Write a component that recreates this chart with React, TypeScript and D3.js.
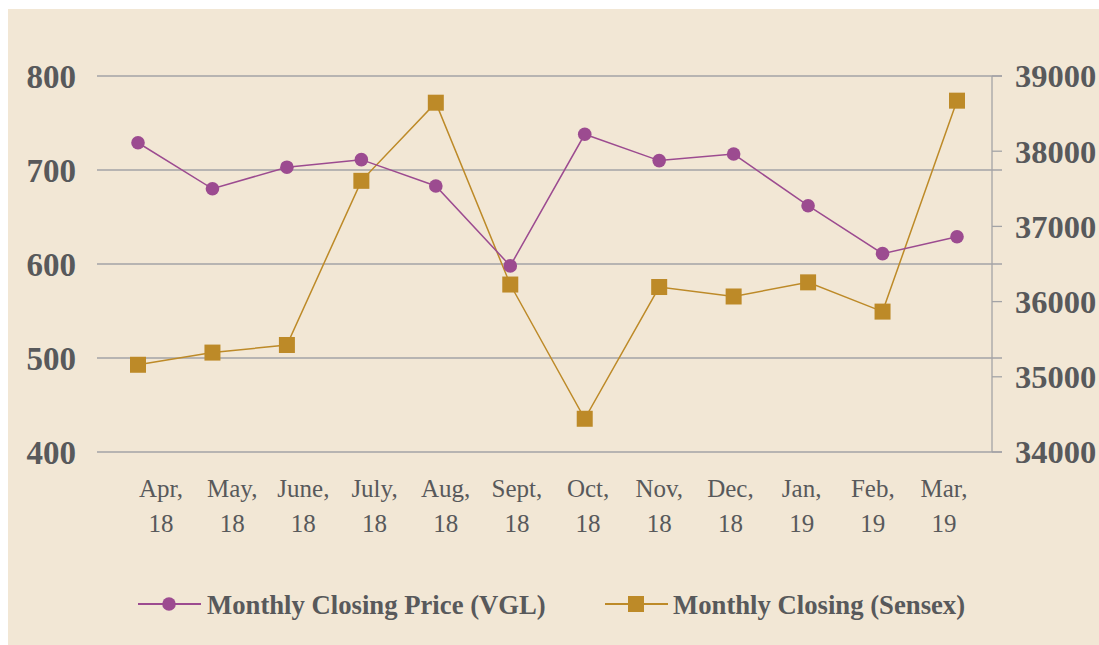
import React from 'react';
import * as d3 from 'd3';

const months = ['Apr, 18', 'May, 18', 'June, 18', 'July, 18', 'Aug, 18', 'Sept, 18', 'Oct, 18', 'Nov, 18', 'Dec, 18', 'Jan, 19', 'Feb, 19', 'Mar, 19'];
const vgl = [729, 680, 703, 711, 683, 598, 738, 710, 717, 662, 611, 629];
const sensex = [35160, 35322, 35423, 37606, 38645, 36227, 34442, 36194, 36068, 36256, 35867, 38672];
const leftTicks = [400, 500, 600, 700, 800];
const rightTicks = [34000, 35000, 36000, 37000, 38000, 39000];

const PURPLE = '#9c4b90';
const GOLD = '#bd8a28';
const TEXT = '#58595b';
const GRID = '#a3a3a6';
const FONT = '"Liberation Serif", "Times New Roman", serif';

const App = () => {
    const W = 1099, H = 645;
    const x = d3.scalePoint<string>().domain(months).range([138, 957]);
    const xLabel = d3.scalePoint<string>().domain(months).range([161, 944]);
    const yL = d3.scaleLinear().domain([400, 800]).range([452, 76]);
    const yR = d3.scaleLinear().domain([34000, 39000]).range([452, 76]);

    const lineL = d3.line<number>().x((d, i) => x(months[i])!).y(d => yL(d));
    const lineR = d3.line<number>().x((d, i) => x(months[i])!).y(d => yR(d));

    return (
        <svg width={W} height={H} style={{position: 'absolute', left: 0, top: 0}} fontFamily={FONT}>
            <rect x={0} y={0} width={W} height={H} fill="#ffffff"/>
            <rect x={8} y={9} width={W - 8} height={H - 9} fill="#f2e7d5"/>

            {leftTicks.map(t => (
                <g key={t}>
                    <line x1={97} x2={1002} y1={yL(t)} y2={yL(t)} stroke={GRID} strokeWidth={1.3}/>
                    <text x={76} y={yL(t)} dy="0.35em" textAnchor="end" fontSize={33} fontWeight="bold" fill={TEXT}>{t}</text>
                </g>
            ))}

            <line x1={992} x2={992} y1={yR(39000)} y2={yR(34000)} stroke={GRID} strokeWidth={1.3}/>
            {rightTicks.map(t => (
                <g key={t}>
                    <line x1={992} x2={1002} y1={yR(t)} y2={yR(t)} stroke={GRID} strokeWidth={1.3}/>
                    <text x={1015} y={yR(t)} dy="0.35em" fontSize={32.5} fontWeight="bold" fill={TEXT}>{t}</text>
                </g>
            ))}

            {months.map(m => {
                const [a, b] = m.split(' ');
                return (
                    <text key={m} x={xLabel(m)} y={488} textAnchor="middle" fontSize={25} fill={TEXT}>
                        <tspan x={xLabel(m)} dy="0.35em">{a}</tspan>
                        <tspan x={xLabel(m)} dy="1.4em">{b}</tspan>
                    </text>
                );
            })}

            <path d={lineR(sensex)!} fill="none" stroke={GOLD} strokeWidth={1.5}/>
            {sensex.map((v, i) => (
                <rect key={i} x={x(months[i])! - 8} y={yR(v) - 8} width={16} height={16} fill={GOLD}/>
            ))}

            <path d={lineL(vgl)!} fill="none" stroke={PURPLE} strokeWidth={1.5}/>
            {vgl.map((v, i) => (
                <circle key={i} cx={x(months[i])} cy={yL(v)} r={6.8} fill={PURPLE}/>
            ))}

            <g>
                <line x1={138} x2={201} y1={604} y2={604} stroke={PURPLE} strokeWidth={2}/>
                <circle cx={169} cy={604} r={6.8} fill={PURPLE}/>
                <text x={207} y={605} dy="0.35em" fontSize={26.7} fontWeight="bold" fill={TEXT}>Monthly Closing Price (VGL)</text>
            </g>
            <g>
                <line x1={605} x2={668} y1={604} y2={604} stroke={GOLD} strokeWidth={2}/>
                <rect x={628} y={596} width={16} height={16} fill={GOLD}/>
                <text x={673} y={605} dy="0.35em" fontSize={26.7} fontWeight="bold" fill={TEXT}>Monthly Closing (Sensex)</text>
            </g>
        </svg>
    );
};

export default App;
